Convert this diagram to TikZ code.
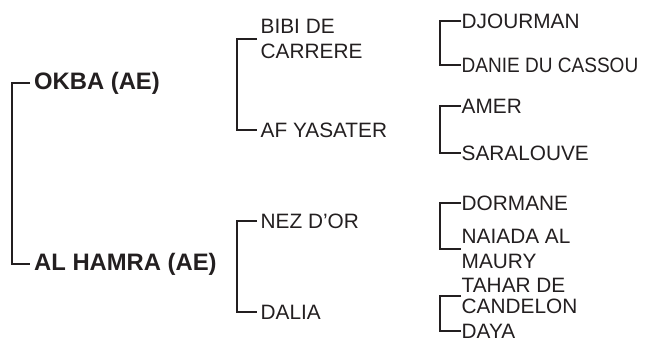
\documentclass[tikz,border=0pt]{standalone}
\usepackage{fontspec}
\setmainfont{Liberation Sans}
\newfontfamily\narrowsans{Liberation Sans}[FakeStretch=0.915]
\definecolor{pedink}{RGB}{35,31,32}
\tikzset{
    rootname/.style={anchor=west, inner xsep=4pt, inner ysep=0pt, text=pedink,
        font=\bfseries\fontsize{23.8}{28}\selectfont},
    midname/.style={anchor=west, inner xsep=3.5pt, inner ysep=0pt, text=pedink, align=left,
        font=\fontsize{20.8}{24.8}\selectfont},
    leafname/.style={midname, inner xsep=0.5pt},
    bracket/.style={draw=pedink, line width=2pt}
}

\begin{document}
\begin{tikzpicture}[x=1pt, y=-1pt]

            \useasboundingbox (0,0) rectangle (645,341);

            \node[rootname] (okba) at (30,83) {OKBA (AE)};
            \node[rootname] (alhamra) at (30,264) {AL HAMRA (AE)};

            \node[midname] (bibi) at (257,39) {BIBI DE\\CARRERE};
            \node[midname] (afyasater) at (257,130) {AF YASATER};
            \node[midname] (nezdor) at (257,221) {NEZ D’OR};
            \node[midname] (dalia) at (257,312) {DALIA};

            \node[leafname] (djourman) at (461,21) {DJOURMAN};
            \node[leafname, font=\narrowsans\fontsize{20.8}{24.8}\selectfont] (danie) at (461,65) {DANIE DU CASSOU};
            \node[leafname] (amer) at (461,106) {AMER};
            \node[leafname] (saralouve) at (461,153) {SARALOUVE};
            \node[leafname] (dormane) at (461,203) {DORMANE};
            \node[leafname] (naiada) at (461,249) {NAIADA AL\\MAURY};
            \node[leafname, font=\fontsize{20.8}{21}\selectfont] (tahar) at (461,296) {TAHAR DE\\CANDELON};
            \node[leafname] (daya) at (461,331) {DAYA};

            \foreach \a/\b/\w in {okba/alhamra/18, bibi/afyasater/20, nezdor/dalia/20,
                    djourman/danie/21, amer/saralouve/21, dormane/naiada/21, tahar/daya/21} {
                    \draw[bracket] (\a.west) -- ++(-\w,0) |- (\b.west);
                }
        \end{tikzpicture}
\end{document}
